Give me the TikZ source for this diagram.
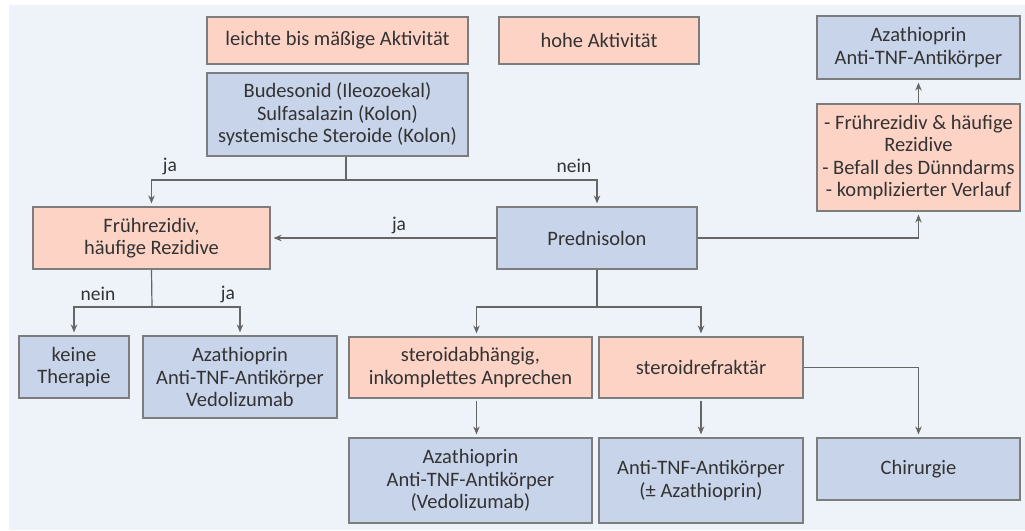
\documentclass[tikz,border=0pt]{standalone}
\usepackage{fontspec}
\setmainfont{Carlito}
\usetikzlibrary{arrows.meta}
\definecolor{bgcol}{HTML}{EEF2F9}
\definecolor{bluebox}{HTML}{C8D4EA}
\definecolor{redbox}{HTML}{FDD3C5}
\definecolor{framecol}{HTML}{7D7D7D}
\definecolor{linecol}{HTML}{666666}
\definecolor{textcol}{HTML}{333333}
\tikzstyle{box}=[rectangle,draw=framecol,line width=1.2pt,text=textcol,align=center,inner sep=0pt,font=\fontsize{20.5}{22.5}\selectfont]
\tikzstyle{therapy}=[box,fill=bluebox]
\tikzstyle{finding}=[box,fill=redbox]
\tikzstyle{plain}=[draw=linecol,line width=1.2pt]
\tikzstyle{flow}=[plain,-{Stealth[length=8pt,width=6.5pt]},shorten >=3pt]
\tikzstyle{answer}=[text=textcol,font=\fontsize{19.5}{22}\selectfont]

\begin{document}
\begin{tikzpicture}[x=1pt,y=-1pt]
			\useasboundingbox (0,0) rectangle (1025,530);
			\fill[bgcol] (9,5) rectangle (1025,530);
			% orange boxes: activity and findings
			\foreach \n/\x/\y/\w/\h/\t in {act1/337.5/40.5/261/47/{leichte bis mäßige Aktivität},
				act2/599/40.5/200/47/{hohe Aktivität},
				frueh/151.5/238/237/62/{Frührezidiv,\\häufige Rezidive},
				abh/470.5/367.5/243/61/{steroidabhängig,\\inkomplettes Anprechen},
				ref/701/367.5/204/61/{steroidrefraktär},
				risk/918.5/157.5/203/107/{- Frührezidiv \& häufige\\Rezidive\\- Befall des Dünndarms\\- komplizierter Verlauf}}
			{
				\node (\n) at (\x,\y) [finding,minimum width=\w,minimum height=\h] {\t};
			}
			% blue boxes: therapies
			\foreach \n/\x/\y/\w/\h/\t in {bud/337.5/114.5/261/83/{Budesonid (Ileozoekal)\\Sulfasalazin (Kolon)\\systemische Steroide (Kolon)},
				pred/597/238/200/62/{Prednisolon},
				keine/74/367/110/62/{keine\\Therapie},
				aza1/240/377/194/82/{Azathioprin\\Anti-TNF-Antikörper\\Vedolizumab},
				aza2/470.5/480.5/243/85/{Azathioprin\\Anti-TNF-Antikörper\\(Vedolizumab)},
				tnf/701/480.5/204/85/{Anti-TNF-Antikörper\\(± Azathioprin)},
				chir/918.5/469/203/62/{Chirurgie},
				aza3/918.5/47.5/203/63/{Azathioprin\\Anti-TNF-Antikörper}}
			{
				\node (\n) at (\x,\y) [therapy,minimum width=\w,minimum height=\h] {\t};
			}
			
			\coordinate (bfork) at (346,180);
			\coordinate (ffork) at (152,307);
			\coordinate (pfork) at (597,307);
			
			\draw[plain] (bud.south -| bfork) -- (bfork);
			\draw[flow] (bfork) -| (frueh.north);
			\draw[flow] (bfork) -| (pred.north);
			\draw[flow] (pred.west) -- (frueh.east);
			\draw[flow] (pred.east) -| (risk.south);
			\draw[flow] (risk.north) -- (aza3.south);
			
			\draw[plain] (frueh.south) -- (ffork);
			\foreach \b in {keine,aza1}
			\draw[flow] (ffork) -| (\b.north);
			
			\draw[plain] (pred.south) -- (pfork);
			\draw[flow] (pfork) -| ([xshift=6]abh.north);
			\draw[flow] (pfork) -| (ref.north);
			\draw[flow,shorten <=2pt] ([xshift=6]abh.south) -- ([xshift=6]aza2.north);
			\draw[flow,shorten <=2pt] (ref.south) -- (tnf.north);
			\draw[flow] (ref.east) -| (chir.north);
			
			\node (ja1) at (170,166) [answer] {ja};
			\node (nein1) at (574,166) [answer] {nein};
			\node (ja2) at (399,225) [answer] {ja};
			\node (nein2) at (98,294) [answer] {nein};
			\node (ja3) at (228,294) [answer] {ja};
		\end{tikzpicture}
\end{document}
